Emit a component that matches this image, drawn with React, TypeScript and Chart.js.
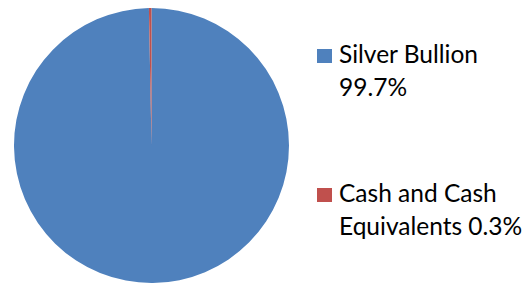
import React, { useEffect, useRef } from "react";
import { Chart, registerables } from "chart.js";

Chart.register(...registerables);

const categories = ["Silver Bullion", "Cash and Cash Equivalents"];
const values = [99.7, 0.3];
const legendLines = [
  ["Silver Bullion", "99.7%"],
  ["Cash and Cash", "Equivalents 0.3%"],
];
const colors = ["#4F81BD", "#C0504D"];

export default function App() {
  const canvasRef = useRef<HTMLCanvasElement | null>(null);

  useEffect(() => {
    document.body.style.margin = "0";
    const chart = new Chart(canvasRef.current!, {
      type: "pie",
      data: {
        labels: categories,
        datasets: [
          {
            data: values,
            backgroundColor: colors,
            borderWidth: 0,
          },
        ],
      },
      options: {
        animation: false,
        responsive: false,
        layout: { padding: { left: 14, right: 14, top: 8, bottom: 1 } },
        plugins: { legend: { display: false }, tooltip: { enabled: false } },
      },
    });
    return () => chart.destroy();
  }, []);

  const legendTops = [37, 176];

  return (
    <div style={{ position: "fixed", left: 0, top: 0, width: 524, height: 284, background: "#fff" }}>
      <canvas ref={canvasRef} width={303} height={284} style={{ position: "absolute", left: 0, top: 0 }} />
      {legendLines.map((lines, i) => (
        <div key={i} style={{ position: "absolute", left: 317, top: legendTops[i] }}>
          <div
            style={{
              position: "absolute",
              left: 0,
              top: 12,
              width: 15,
              height: 14,
              background: colors[i],
            }}
          />
          <div
            style={{
              position: "absolute",
              left: 22,
              top: 0,
              fontFamily: "Lato, sans-serif",
              fontSize: 24.5,
              lineHeight: "33px",
              color: "#000",
              whiteSpace: "nowrap",
            }}
          >
            {lines.map((t, j) => (
              <div key={j}>{t}</div>
            ))}
          </div>
        </div>
      ))}
    </div>
  );
}
